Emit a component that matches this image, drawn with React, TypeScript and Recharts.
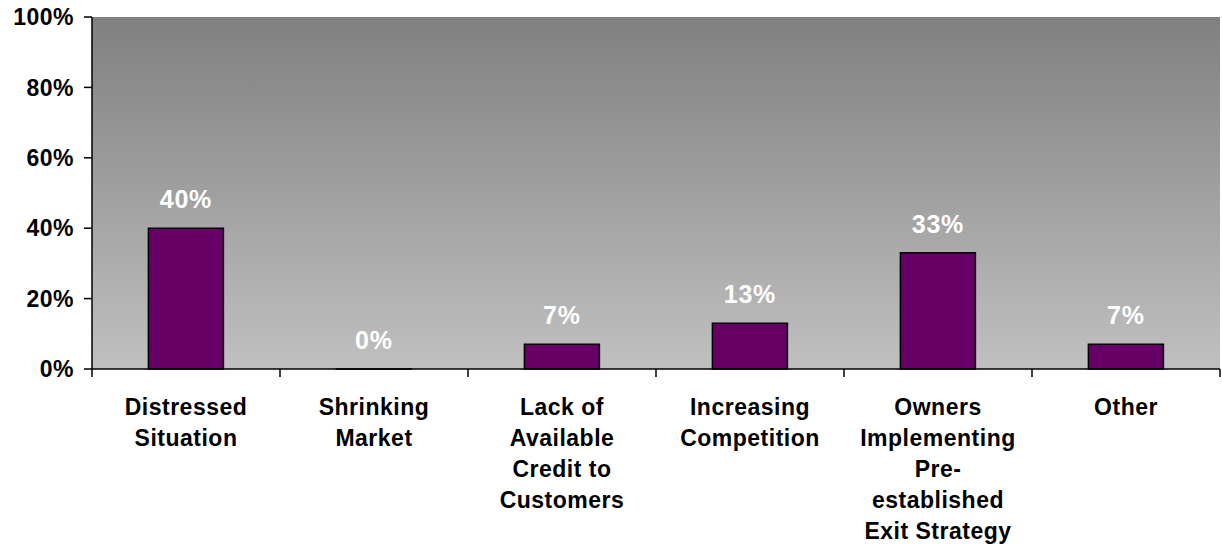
import React from 'react';
import { BarChart, Bar, XAxis, YAxis, CartesianGrid, LabelList } from 'recharts';

const categories = [
  'Distressed Situation',
  'Shrinking Market',
  'Lack of Available Credit to Customers',
  'Increasing Competition',
  'Owners Implementing Pre-established Exit Strategy',
  'Other',
];

// how the category names wrap under the axis
const tickLines: string[][] = [
  ['Distressed', 'Situation'],
  ['Shrinking', 'Market'],
  ['Lack of', 'Available', 'Credit to', 'Customers'],
  ['Increasing', 'Competition'],
  ['Owners', 'Implementing', 'Pre-', 'established', 'Exit Strategy'],
  ['Other'],
];

const shares = [40, 0, 7, 13, 33, 7];
const yTicks = [0, 20, 40, 60, 80, 100];

const data = categories.map((name, i) => ({ name, share: shares[i], idx: i }));

const W = 1222;
const H = 550;
const LEFT = 92;
const RIGHT = 2;
const BAND = (W - LEFT - RIGHT) / categories.length;
const FONT = 'Liberation Sans, Arial, sans-serif';

const CategoryTick = (props: any) => {
  const { x, y, payload } = props;
  const lines = tickLines[payload.index] || [payload.value];
  return (
    <g>
      <line x1={x + BAND / 2} y1={y - 8} x2={x + BAND / 2} y2={y} stroke="#000" strokeWidth={1.5} />
      {payload.index === 0 && (
        <line x1={x - BAND / 2} y1={y - 8} x2={x - BAND / 2} y2={y} stroke="#000" strokeWidth={1.5} />
      )}
      <text
        x={x}
        y={y + 38}
        textAnchor="middle"
        fontFamily={FONT}
        fontWeight="bold"
        fontSize={23}
        letterSpacing={0.5}
        fill="#000"
      >
        {lines.map((ln, i) => (
          <tspan key={i} x={x} dy={i === 0 ? 0 : 31}>{ln}</tspan>
        ))}
      </text>
    </g>
  );
};

export default function App() {
  return (
    <div style={{ position: 'absolute', left: 0, top: 0, width: W, height: H, background: '#fff' }}>
      <BarChart
        width={W}
        height={H}
        data={data}
        margin={{ top: 17, right: RIGHT, bottom: 0, left: 0 }}
        barCategoryGap="30%"
      >
        <defs>
          <linearGradient id="plotBg" x1="0" y1="0" x2="0" y2="1">
            <stop offset="0%" stopColor="#808080" />
            <stop offset="100%" stopColor="#c0c0c0" />
          </linearGradient>
        </defs>
        <CartesianGrid horizontal={false} vertical={false} fill="url(#plotBg)" stroke="none" />
        <XAxis
          dataKey="name"
          interval={0}
          height={181}
          axisLine={{ stroke: '#000', strokeWidth: 1.5 }}
          tickLine={false}
          tick={<CategoryTick />}
        />
        <YAxis
          width={LEFT}
          domain={[0, 100]}
          ticks={yTicks}
          tickFormatter={(v: number) => `${v}%`}
          axisLine={{ stroke: '#000', strokeWidth: 1.5 }}
          tickLine={{ stroke: '#000', strokeWidth: 1.5 }}
          tickSize={8}
          tickMargin={10}
          tick={{ fill: '#000', fontFamily: FONT, fontWeight: 'bold', fontSize: 23, letterSpacing: 0.5 }}
        />
        <Bar
          dataKey="share"
          fill="#660066"
          stroke="#000"
          strokeWidth={1.5}
          minPointSize={0.01}
          isAnimationActive={false}
        >
          <LabelList
            dataKey="share"
            position="top"
            offset={20}
            formatter={(v: any) => `${v}%`}
            fill="#fff"
            fontFamily={FONT}
            fontWeight="bold"
            fontSize={25}
            letterSpacing={0.8}
          />
        </Bar>
      </BarChart>
    </div>
  );
}
